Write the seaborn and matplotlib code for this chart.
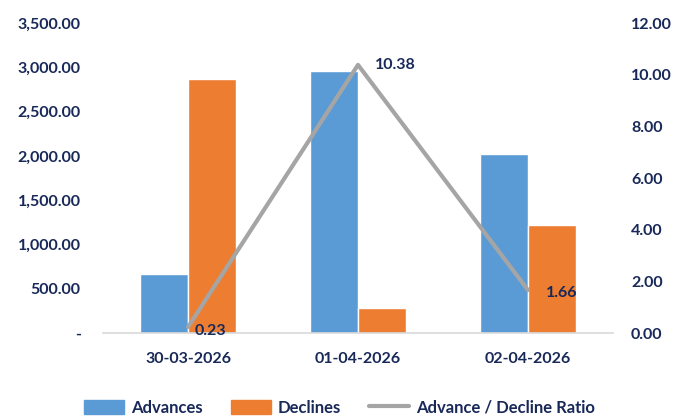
import numpy as np
import pandas as pd
import matplotlib
matplotlib.use('Agg')
import matplotlib.pyplot as plt
import seaborn as sns
from matplotlib.lines import Line2D
from matplotlib.patches import Patch

# datos
fechas = ['30-03-2026', '01-04-2026', '02-04-2026']
advances = [670, 2960, 2025]
declines = [2870, 285, 1220]
ratio = [0.23, 10.38, 1.66]

azul = '#5B9BD5'
naranja = '#ED7D31'
gris = '#A5A5A5'
texto = '#182858'

sns.set_style('white')
plt.rcParams['font.family'] = ['Lato', 'DejaVu Sans']
plt.rcParams['font.weight'] = 'bold'

df = pd.DataFrame({'fecha': fechas * 2,
                   'valor': advances + declines,
                   'serie': ['Advances'] * 3 + ['Declines'] * 3})

fig = plt.figure(figsize=(6.79, 4.16), dpi=100)
ax = fig.add_axes([0.1517, 0.1995, 0.7511, 0.7452])

sns.barplot(data=df, x='fecha', y='valor', hue='serie', ax=ax,
            palette=[azul, naranja], width=0.57, gap=0, saturation=1,
            legend=False)
ax.set_ylim(0, 3500)
ax.set_xlim(-0.5, 2.5)
ax.set_yticks(np.arange(0, 3501, 500))
ax.set_yticklabels(['-' if v == 0 else f'{v:,.2f}' for v in np.arange(0, 3501, 500)])
ax.set_xlabel('')
ax.set_ylabel('')

for s in ['top', 'right', 'left']:
    ax.spines[s].set_visible(False)
ax.spines['bottom'].set_color('#D9D9D9')
ax.spines['bottom'].set_linewidth(1.2)

ax.tick_params(axis='y', length=0, pad=16, labelsize=11.5, labelcolor=texto)
ax.tick_params(axis='x', which='major', length=0, pad=14, labelsize=11.5, labelcolor=texto)
ax.set_xticks([-0.5, 0.5, 1.5, 2.5], minor=True)
ax.tick_params(axis='x', which='minor', length=5, color='#D9D9D9', width=1.2, direction='out')

# eje secundario con el ratio
ax2 = ax.twinx()
sns.lineplot(x=np.arange(len(fechas)), y=ratio, ax=ax2, color=gris, linewidth=3)
ax2.set_ylim(0, 12)
ax2.set_yticks(np.arange(0, 12.1, 2))
ax2.set_yticklabels([f'{v:.2f}' for v in np.arange(0, 12.1, 2)])
ax2.tick_params(axis='y', length=0, pad=13, labelsize=11.5, labelcolor=texto)
for s in ax2.spines.values():
    s.set_visible(False)

offsets = [(7, -4), (17, 0), (18, -3)]
for i, r in enumerate(ratio):
    ax2.annotate(f'{r:.2f}', (i, r), xytext=offsets[i], textcoords='offset pixels',
                 ha='left', va='center', fontsize=11.5, color=texto, fontweight='bold')

handles = [Patch(color=azul, label='Advances'),
           Patch(color=naranja, label='Declines'),
           Line2D([0], [0], color=gris, linewidth=3, label='Advance / Decline Ratio')]
leg = fig.legend(handles=handles, loc='center', bbox_to_anchor=(0.5, 0.02), ncol=3,
                 frameon=False, fontsize=12, handlelength=2.4, handleheight=0.9,
                 columnspacing=1.7, handletextpad=0.4)
for t in leg.get_texts():
    t.set_color(texto)

fig.savefig('out.png', dpi=100)
